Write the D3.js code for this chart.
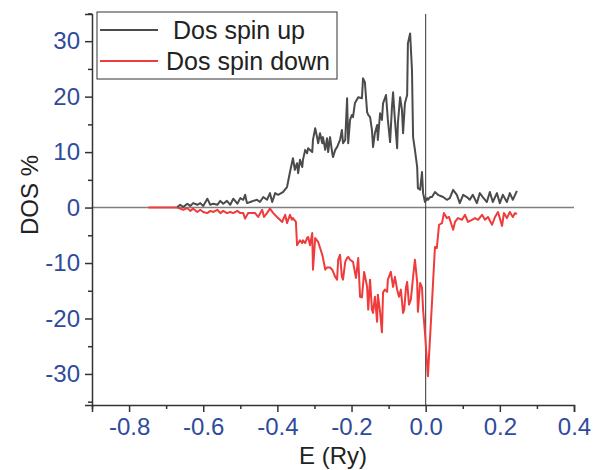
<!DOCTYPE html>
<html>
<head>
<meta charset="utf-8">
<script src="https://cdn.jsdelivr.net/npm/d3@7"></script>
<style>
body{margin:0;background:#fff;}
svg text{font-family:Arial,"Liberation Sans",sans-serif;}
</style>
</head>
<body>
<svg id="chart" width="593" height="470"></svg>
<script>
// energy (Ry) and DOS values
var upE = [-0.670,-0.662,-0.654,-0.643,-0.635,-0.627,-0.616,-0.608,-0.600,-0.589,-0.581,-0.573,-0.562,-0.554,-0.546,-0.536,-0.527,-0.519,-0.508,-0.500,-0.492,-0.487,-0.482,-0.473,-0.465,-0.455,-0.447,-0.438,-0.428,
	-0.420,-0.414,-0.406,-0.398,-0.385,-0.374,-0.366,-0.361,-0.358,-0.353,-0.347,-0.344,-0.339,-0.333,-0.331,-0.325,-0.320,-0.317,-0.306,-0.304,-0.298,-0.293,-0.290,-0.285,-0.279,-0.277,-0.271,-0.266,-0.263,-0.258,-0.252,-0.250,-0.244,-0.239,-0.231,-0.226,-0.223,-0.217,-0.212,-0.209,-0.204,-0.199,
	-0.196,-0.191,-0.182,-0.172,-0.169,-0.164,-0.158,-0.155,-0.150,-0.145,-0.142,-0.137,-0.131,-0.129,-0.123,-0.118,-0.115,-0.107,-0.102,-0.096,-0.091,-0.088,-0.083,-0.077,-0.075,-0.069,-0.064,-0.061,-0.056,-0.050,-0.048,-0.042,-0.037,-0.034,-0.029,-0.023,-0.021,-0.015,-0.010,-0.007,-0.002,0.004,0.006,
	0.012,0.017,0.025,0.033,0.047,0.057,0.065,0.074,0.084,0.092,0.101,0.111,0.119,0.127,0.138,0.146,0.154,0.165,0.173,0.181,0.192,0.200,0.208,0.219,0.227,0.235,0.246];
var upDos = [0.1,0.5,0.1,0.7,0.3,0.8,0.5,0.8,0.3,1.6,0.5,0.7,0.5,1.2,0.7,1.2,0.5,1.6,0.7,1.7,1.4,2.3,0.8,1.0,1.2,1.4,1.0,1.9,1.4,
	2.6,1.0,2.6,2.3,2.8,3.7,6.4,8.0,8.9,6.8,8.0,6.2,8.6,7.3,8.6,10.4,9.8,10.7,10.0,12.2,14.3,12.7,11.6,13.4,11.6,12.7,10.4,12.5,10.0,12.7,9.8,9.1,10.4,10.9,12.2,14.0,11.6,12.2,19.7,11.6,15.8,16.7,
	16.3,18.8,19.9,19.7,23.3,22.6,17.2,16.7,16.3,14.0,10.9,13.4,14.9,12.2,17.0,15.8,18.8,20.3,15.8,11.8,18.1,20.8,15.8,10.7,15.2,19.9,17.6,13.4,18.8,20.3,29.6,31.4,24.8,12.7,10.4,7.3,3.5,3.2,6.4,2.6,1.0,1.7,1.4,
	1.9,1.9,2.8,2.3,1.9,1.4,1.7,3.2,2.3,0.8,2.3,1.9,1.4,2.3,0.8,2.6,1.9,1.0,2.8,1.0,2.6,0.8,2.3,1.0,2.6,1.4,3.0];

var downE = [-0.748,-0.670,-0.662,-0.654,-0.643,-0.635,-0.627,-0.616,-0.608,-0.600,-0.589,-0.581,-0.573,-0.562,-0.554,-0.546,-0.536,-0.527,-0.519,-0.508,-0.500,-0.492,-0.487,-0.479,-0.468,-0.460,-0.452,-0.441,-0.436,-0.428,-0.420,-0.411,-0.401,
	-0.398,-0.387,-0.379,-0.374,-0.366,-0.361,-0.358,-0.350,-0.347,-0.339,-0.333,-0.331,-0.325,-0.320,-0.317,-0.312,-0.306,-0.304,-0.298,-0.290,-0.279,-0.277,-0.271,-0.266,-0.258,-0.252,-0.244,-0.239,-0.236,-0.231,-0.226,-0.223,-0.217,-0.212,-0.209,-0.204,
	-0.196,-0.188,-0.182,-0.177,-0.172,-0.166,-0.158,-0.155,-0.150,-0.145,-0.142,-0.137,-0.131,-0.129,-0.123,-0.118,-0.115,-0.110,-0.104,-0.102,-0.094,-0.088,-0.083,-0.077,-0.072,-0.067,-0.061,-0.058,-0.053,-0.050,-0.045,-0.040,-0.034,-0.029,-0.023,-0.021,-0.015,-0.010,-0.007,-0.002,0.006,
	0.017,0.025,0.030,0.036,0.044,0.049,0.057,0.063,0.074,0.079,0.087,0.098,0.106,0.114,0.125,0.133,0.141,0.152,0.160,0.168,0.179,0.187,0.195,0.206,0.211,0.219,0.227,0.235,0.241,0.246];
var downDos = [0,0,-0.2,-0.4,-0.1,-0.6,-0.2,-0.8,-0.4,-0.8,-1.0,-0.6,-0.8,-0.4,-1.0,-0.6,-1.0,-0.8,-1.0,-0.6,-1.0,-1.0,-2.0,-1.0,-1.0,-1.0,-1.7,-0.4,-1.7,-1.0,-0.2,-1.0,-1.7,
	-1.9,-2.6,-1.3,-2.8,-1.3,-2.2,-1.9,-2.6,-6.8,-5.9,-6.4,-5.9,-6.4,-5.5,-5.3,-6.8,-4.6,-11.2,-5.5,-6.2,-8.5,-9.1,-11.2,-10.8,-10.8,-11.2,-12.5,-13.0,-9.4,-8.5,-12.5,-13.0,-9.8,-9.1,-8.9,-9.4,
	-9.8,-12.7,-9.1,-16.1,-16.2,-11.6,-14.3,-18.4,-13.0,-18.4,-19.0,-16.1,-20.6,-15.7,-18.8,-22.5,-15.3,-14.8,-15.2,-13.0,-11.6,-14.3,-12.5,-14.8,-16.1,-14.8,-19.0,-18.4,-14.3,-13.4,-17.5,-16.6,-12.5,-9.4,-13.4,-18.8,-13.6,-14.4,-18.4,-22.5,-30.4,
	-17.1,-7.1,-7.3,-3.1,-2.8,-1.0,-1.9,-1.7,-4.0,-2.6,-1.9,-2.2,-1.3,-2.6,-2.2,-1.9,-2.2,-1.3,-2.2,-1.7,-3.1,-1.7,-0.8,-3.3,-1.0,-1.9,-0.8,-1.7,-1.0,-1.2];

var xTicks = [-0.8,-0.6,-0.4,-0.2,0.0,0.2,0.4];
var xMinor = [-0.9,-0.7,-0.5,-0.3,-0.1,0.1,0.3];
var yTicks = [-30,-20,-10,0,10,20,30];
var yMinor = [-35,-25,-15,-5,5,15,25,35];
var seriesNames = ["Dos spin up","Dos spin down"];
var seriesColors = ["#4b4b4b","#ef3b3b"];

function drawChart(){
	var svg = d3.select("#chart");
	var plotLeft = 92, plotRight = 574, plotTop = 14, plotBottom = 405;

	var x = d3.scaleLinear().domain([-0.9,0.4]).range([plotLeft,plotRight]);
	var y = d3.scaleLinear().domain([-35.6,34.9]).range([plotBottom,plotTop]);

	var axisColor = "#333";
	var tickColor = "#2f4b9c";

	// zero lines
	svg.append("line")
		.attr("x1",plotLeft).attr("x2",plotRight)
		.attr("y1",y(0)).attr("y2",y(0))
		.attr("stroke","#808080").attr("stroke-width",1.5);
	svg.append("line")
		.attr("x1",x(0)).attr("x2",x(0))
		.attr("y1",plotTop).attr("y2",plotBottom)
		.attr("stroke","#333").attr("stroke-width",1);

	// data lines
	var line = d3.line().x(function(d){return x(d[0]);}).y(function(d){return y(d[1]);});
	var upPts = upE.map(function(e,i){return [e,upDos[i]];});
	var downPts = downE.map(function(e,i){return [e,downDos[i]];});

	svg.append("path").datum(downPts)
		.attr("d",line).attr("fill","none")
		.attr("stroke",seriesColors[1]).attr("stroke-width",2).attr("stroke-linejoin","round");
	svg.append("path").datum(upPts)
		.attr("d",line).attr("fill","none")
		.attr("stroke",seriesColors[0]).attr("stroke-width",2).attr("stroke-linejoin","round");

	// axes
	var xAxis = svg.append("g").attr("transform","translate(0,"+plotBottom+")")
		.call(d3.axisBottom(x).tickValues(xTicks).tickSize(7).tickFormat(d3.format(".1f")));
	svg.append("g").attr("transform","translate(0,"+plotBottom+")")
		.call(d3.axisBottom(x).tickValues(xMinor).tickSize(4).tickFormat(""))
		.call(function(g){g.select(".domain").remove();});
	var yAxis = svg.append("g").attr("transform","translate("+plotLeft+",0)")
		.call(d3.axisLeft(y).tickValues(yTicks).tickSize(7));
	svg.append("g").attr("transform","translate("+plotLeft+",0)")
		.call(d3.axisLeft(y).tickValues(yMinor).tickSize(4).tickFormat(""))
		.call(function(g){g.select(".domain").remove();});

	svg.selectAll(".domain").attr("stroke",axisColor).attr("stroke-width",1.5);
	svg.selectAll(".tick line").attr("stroke",axisColor).attr("stroke-width",1.5);

	xAxis.selectAll(".tick text")
		.attr("fill",tickColor).attr("font-size",24).attr("y",13).attr("dy","0.71em")
		.text(function(d){return d3.format(".1f")(d).replace("\u2212","-");});
	yAxis.selectAll(".tick text")
		.attr("fill",tickColor).attr("font-size",24).attr("x",-12)
		.text(function(d){return String(d);});

	// axis titles
	svg.append("text")
		.attr("x",(plotLeft+plotRight)/2).attr("y",464)
		.attr("text-anchor","middle").attr("font-size",24).attr("fill","#222")
		.text("E (Ry)");
	svg.append("text")
		.attr("transform","translate(38,195) rotate(-90)")
		.attr("text-anchor","middle").attr("font-size",24).attr("fill","#222")
		.text("DOS %");

	// legend
	var legend = svg.append("g");
	legend.append("rect")
		.attr("x",97).attr("y",12).attr("width",240).attr("height",67)
		.attr("fill","#fff").attr("stroke","#333").attr("stroke-width",1);
	var legendY = [30,61];
	var legendTextX = [173,166];
	seriesNames.forEach(function(name,i){
		legend.append("line")
			.attr("x1",100).attr("x2",158)
			.attr("y1",legendY[i]).attr("y2",legendY[i])
			.attr("stroke",seriesColors[i]).attr("stroke-width",2);
		legend.append("text")
			.attr("x",legendTextX[i]).attr("y",legendY[i]+8.5)
			.attr("font-size",25).attr("fill","#222")
			.text(name);
	});
}

drawChart();
</script>
</body>
</html>
